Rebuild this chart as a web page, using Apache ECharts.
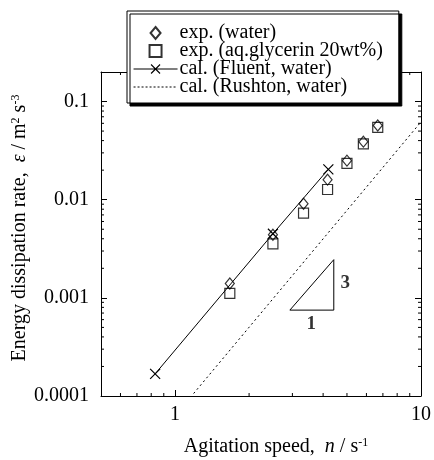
<!DOCTYPE html>
<html>
<head>
<meta charset="utf-8">
<script src="https://cdn.jsdelivr.net/npm/echarts@6/dist/echarts.min.js"></script>
<style>
html, body { margin: 0; padding: 0; background: #fff; }
#chart { width: 434px; height: 460px; }
</style>
</head>
<body>
<div id="chart"></div>
<script>
// agitation speed n [1/s] and dissipation rate eps [m2/s3]
var speedExp = [1.67, 2.5, 3.33, 4.17, 5.0, 5.83, 6.67];
var epsWater = [0.0014, 0.0044, 0.0091, 0.016, 0.025, 0.039, 0.057];
var epsGlycerin = [0.00111, 0.00355, 0.0073, 0.0127, 0.0235, 0.037, 0.0545];
var speedFluent = [0.83, 2.5, 4.2];
var epsFluent = [0.000168, 0.0045, 0.0204];
var speedRushton = [1.19, 10];
var epsRushton = [0.000106, 0.062];
// slope triangle (3:1)
var triX = [2.93, 4.42, 4.42, 2.93];
var triY = [0.00075, 0.00075, 0.00245, 0.00075];
var triLabels = ['3', '1'];
var triLabelX = [4.92, 3.58];
var triLabelY = [0.0014, 0.000535];
var xTickLabels = ['1', '10'];
var yTickLabels = ['0.0001', '0.001', '0.01', '0.1'];

var X_MIN = 0.5, X_MAX = 10, Y_MIN = 0.0001, Y_MAX = 0.2;
var FONT = 'Liberation Serif';

function pairs(xs, ys) {
  var out = [];
  for (var i = 0; i < xs.length; i++) out.push([xs[i], ys[i]]);
  return out;
}

function tickLabel(labels) {
  return function (v) {
    for (var i = 0; i < labels.length; i++) {
      var t = Number(labels[i]);
      if (Math.abs(v - t) / t < 1e-6) return labels[i];
    }
    return '';
  };
}

// minor ticks 2..9 of every decade
var minorData = [];
for (var d = -5; d <= 1; d++) {
  for (var k = 2; k <= 9; k++) {
    var v = k * Math.pow(10, d);
    if (v > X_MIN && v < X_MAX) minorData.push([v, Y_MIN, 0]);
    if (v > Y_MIN && v < Y_MAX) minorData.push([X_MIN, v, 1]);
  }
}

// legend icons drawn as paths so every row keeps the same height
var crossIcon = 'path://M0,0M44,12M0,6L44,6M17.5,1.5L26.5,10.5M26.5,1.5L17.5,10.5';
var dashIcon = 'path://M0,0M44,12';
for (var p = 0; p < 44; p += 4) dashIcon += 'M' + p + ',6L' + (p + 2) + ',6';

var myChart = echarts.init(document.getElementById('chart'), null, { renderer: 'canvas' });

var axisCommon = {
  type: 'log',
  logBase: 10,
  splitLine: { show: false },
  axisLine: { show: true, lineStyle: { color: '#000', width: 1 } },
  axisTick: { show: true, inside: true, length: 6, lineStyle: { color: '#000' } }
};

var option = {
  animation: false,
  backgroundColor: '#fff',
  grid: { left: 101, right: 11, top: 72, bottom: 64 },
  xAxis: [
    Object.assign({}, axisCommon, {
      min: X_MIN, max: X_MAX, position: 'bottom',
      axisLabel: { margin: 9, color: '#000', fontFamily: FONT, fontSize: 20, formatter: tickLabel(xTickLabels) }
    }),
    Object.assign({}, axisCommon, {
      min: X_MIN, max: X_MAX, position: 'top',
      axisLabel: { show: false }
    })
  ],
  yAxis: [
    Object.assign({}, axisCommon, {
      min: Y_MIN, max: Y_MAX, position: 'left',
      axisLabel: { margin: 12, color: '#000', fontFamily: FONT, fontSize: 20, formatter: tickLabel(yTickLabels) }
    }),
    Object.assign({}, axisCommon, {
      min: Y_MIN, max: Y_MAX, position: 'right',
      axisLabel: { show: false }
    })
  ],
  legend: {
    orient: 'vertical',
    left: 127,
    top: 11,
    padding: [12, 16, 6, 6],
    itemGap: -2,
    itemWidth: 44,
    itemHeight: 12,
    backgroundColor: '#fff',
    borderColor: '#000',
    borderWidth: 1,
    shadowColor: '#000',
    shadowBlur: 0,
    shadowOffsetX: 3,
    shadowOffsetY: 3,
    selectedMode: false,
    textStyle: { color: '#000', fontFamily: FONT, fontSize: 20, lineHeight: 18, padding: [0, 0, 0, -3] },
    data: [
      { name: 'exp. (water)', icon: 'path://M5,0L10,6L5,12L0,6Z' },
      { name: 'exp. (aq.glycerin 20wt%)', icon: 'path://M0,0L10,0L10,10L0,10Z' },
      { name: 'cal. (Fluent, water)', icon: crossIcon,
        itemStyle: { color: 'rgba(0,0,0,0)', borderColor: '#000', borderWidth: 1.1 } },
      { name: 'cal. (Rushton, water)', icon: dashIcon,
        itemStyle: { color: 'rgba(0,0,0,0)', borderColor: '#000', borderWidth: 1 } }
    ]
  },
  graphic: [
    {
      type: 'text', x: 276, y: 447,
      style: {
        text: 'Agitation speed,  {i|n} / s{sup|-1}',
        fontFamily: FONT, fontSize: 20, fill: '#000',
        align: 'center', verticalAlign: 'middle',
        rich: {
          i: { fontFamily: FONT, fontSize: 20, fontStyle: 'italic', lineHeight: 20 },
          sup: { fontFamily: FONT, fontSize: 12, verticalAlign: 'top', lineHeight: 12 }
        }
      }
    },
    {
      type: 'text', x: 20, y: 228, rotation: Math.PI / 2,
      style: {
        text: 'Energy dissipation rate,  {i|ε} / m{sup|2} s{sup|-3}',
        fontFamily: FONT, fontSize: 20, fill: '#000',
        align: 'center', verticalAlign: 'middle',
        rich: {
          i: { fontFamily: FONT, fontSize: 20, fontStyle: 'italic', lineHeight: 20 },
          sup: { fontFamily: FONT, fontSize: 12, verticalAlign: 'top', lineHeight: 12 }
        }
      }
    }
  ],
  series: [
    {
      name: 'minor ticks',
      type: 'custom',
      silent: true,
      clip: false,
      data: minorData,
      renderItem: function (params, api) {
        var v, a, b, c, e, L = 3;
        var st = { stroke: '#000', lineWidth: 1 };
        if (api.value(2) === 0) {
          v = api.value(0);
          a = api.coord([v, Y_MIN]);
          b = api.coord([v, Y_MAX]);
          return { type: 'group', children: [
            { type: 'line', shape: { x1: a[0], y1: a[1], x2: a[0], y2: a[1] - L }, style: st },
            { type: 'line', shape: { x1: b[0], y1: b[1], x2: b[0], y2: b[1] + L }, style: st }
          ] };
        }
        v = api.value(1);
        c = api.coord([X_MIN, v]);
        e = api.coord([X_MAX, v]);
        return { type: 'group', children: [
          { type: 'line', shape: { x1: c[0], y1: c[1], x2: c[0] + L, y2: c[1] }, style: st },
          { type: 'line', shape: { x1: e[0], y1: e[1], x2: e[0] - L, y2: e[1] }, style: st }
        ] };
      }
    },
    {
      name: 'cal. (Rushton, water)',
      type: 'line',
      data: pairs(speedRushton, epsRushton),
      symbol: 'none',
      silent: true,
      itemStyle: { color: '#000' },
      lineStyle: { color: '#000', width: 1, type: [2, 3] }
    },
    {
      name: 'cal. (Fluent, water)',
      type: 'line',
      data: pairs(speedFluent, epsFluent),
      symbol: 'path://M0,0L10,10M10,0L0,10',
      symbolSize: 10,
      silent: true,
      itemStyle: { color: '#000', borderColor: '#000', borderWidth: 1.2 },
      lineStyle: { color: '#000', width: 1 }
    },
    {
      name: 'exp. (aq.glycerin 20wt%)',
      type: 'scatter',
      data: pairs(speedExp, epsGlycerin),
      symbol: 'rect',
      symbolSize: [10, 10],
      silent: true,
      itemStyle: { color: 'rgba(0,0,0,0)', borderColor: '#000', borderWidth: 1.2 }
    },
    {
      name: 'exp. (water)',
      type: 'scatter',
      data: pairs(speedExp, epsWater),
      symbol: 'diamond',
      symbolSize: [9, 11],
      silent: true,
      itemStyle: { color: 'rgba(0,0,0,0)', borderColor: '#000', borderWidth: 1.2 }
    },
    {
      name: 'slope',
      type: 'line',
      data: pairs(triX, triY),
      symbol: 'none',
      silent: true,
      lineStyle: { color: '#000', width: 1 }
    },
    {
      name: 'slope labels',
      type: 'scatter',
      symbolSize: 0,
      silent: true,
      data: triLabels.map(function (t, i) { return { value: [triLabelX[i], triLabelY[i]], name: t }; }),
      label: {
        show: true, position: 'inside', formatter: '{b}',
        color: '#000', fontFamily: FONT, fontSize: 19, fontWeight: 'bold'
      }
    }
  ]
};

myChart.setOption(option);
window.addEventListener('resize', myChart.resize);
</script>
</body>
</html>
